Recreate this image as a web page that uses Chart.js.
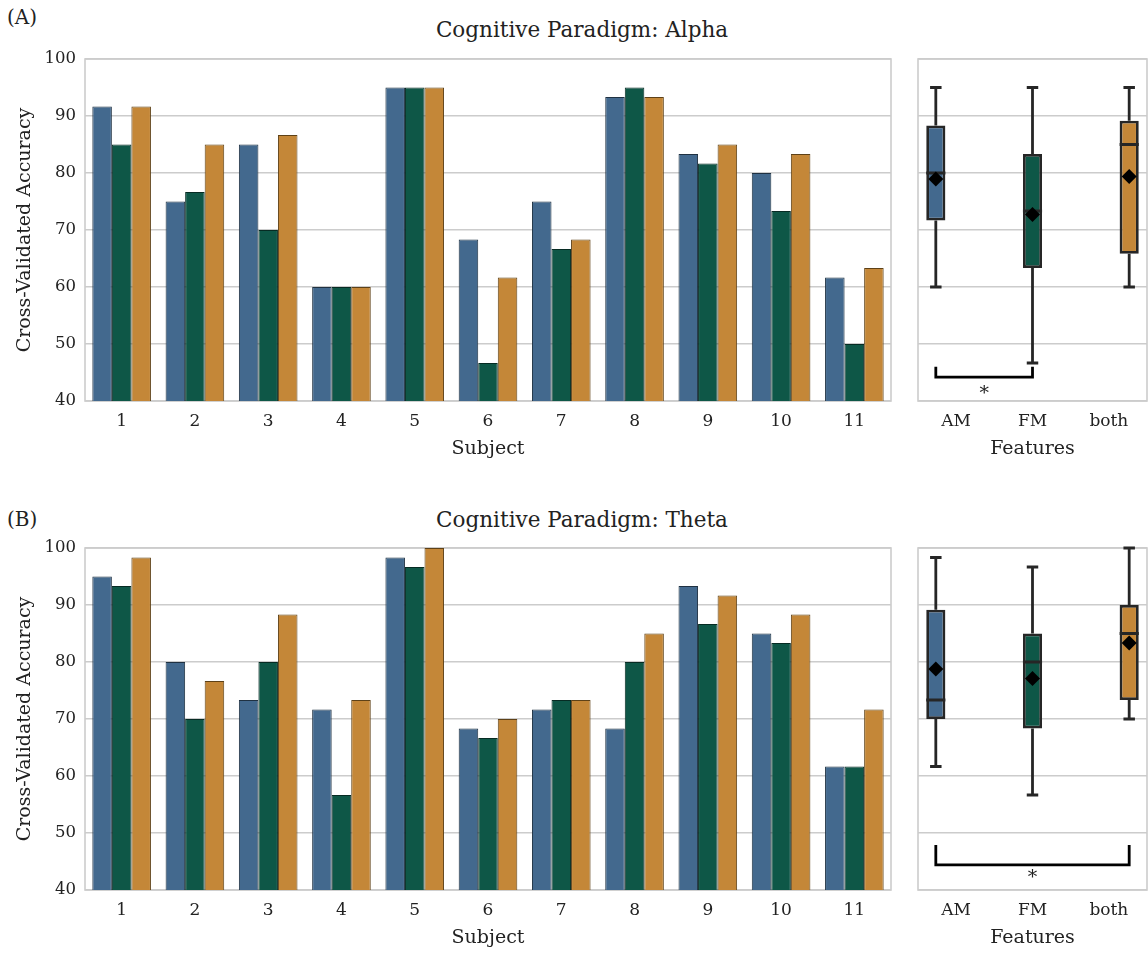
<!DOCTYPE html>
<html>
<head>
<meta charset="utf-8">
<script src="https://cdn.jsdelivr.net/npm/chart.js@4.4.1/dist/chart.umd.min.js"></script>
<style>
  body { margin: 0; background: #fff; width: 1148px; height: 955px; position: relative; overflow: hidden; font-family: 'DejaVu Serif', serif; color: #222; }
  canvas { position: absolute; }
  .tag { position: absolute; font-size: 20px; }
  .ttl { position: absolute; left: 0; width: 1164px; text-align: center; font-size: 21.5px; }
</style>
</head>
<body>
<div class="tag" style="left:7px; top:5px;">(A)</div>
<div class="ttl" style="top:17px;">Cognitive Paradigm: Alpha</div>
<canvas id="barA" width="900" height="421" style="left:0; top:40px;"></canvas>
<canvas id="boxA" width="248" height="421" style="left:900px; top:40px;"></canvas>

<div class="tag" style="left:7px; top:507px;">(B)</div>
<div class="ttl" style="top:507px;">Cognitive Paradigm: Theta</div>
<canvas id="barB" width="900" height="421" style="left:0; top:529px;"></canvas>
<canvas id="boxB" width="248" height="421" style="left:900px; top:529px;"></canvas>

<script>
// subjects and feature sets
const subjects = ['1', '2', '3', '4', '5', '6', '7', '8', '9', '10', '11'];
const features = ['AM', 'FM', 'both'];

// cross-validated accuracy per subject, alpha paradigm
const alphaAM   = [91.67, 75, 85, 60, 95, 68.33, 75, 93.33, 83.33, 80, 61.67];
const alphaFM   = [85, 76.67, 70, 60, 95, 46.67, 66.67, 95, 81.67, 73.33, 50];
const alphaBoth = [91.67, 85, 86.67, 60, 95, 61.67, 68.33, 93.33, 85, 83.33, 63.33];

// cross-validated accuracy per subject, theta paradigm
const thetaAM   = [95, 80, 73.33, 71.67, 98.33, 68.33, 71.67, 68.33, 93.33, 85, 61.67];
const thetaFM   = [93.33, 70, 80, 56.67, 96.67, 66.67, 73.33, 80, 86.67, 83.33, 61.67];
const thetaBoth = [98.33, 76.67, 88.33, 73.33, 100, 70, 73.33, 85, 91.67, 88.33, 71.67];

const yMin = 40, yMax = 100, yStep = 10;

const fills = ['#43698e', '#0e5747', '#c48738'];
const edges = ['#1f3142', '#062b23', '#5e4117'];
const GRID = '#cccccc';
const INK = '#262626';
const FONT = "'DejaVu Serif', serif";

Chart.defaults.font.family = FONT;
Chart.defaults.color = '#222';
Chart.defaults.animation = false;

// numpy-style linear percentile
function pct(sorted, p) {
    const idx = (sorted.length - 1) * p;
    const lo = Math.floor(idx), hi = Math.ceil(idx);
    return sorted[lo] + (sorted[hi] - sorted[lo]) * (idx - lo);
}

function boxStats(vals) {
    const s = [...vals].sort((a, b) => a - b);
    const q1 = pct(s, 0.25), q3 = pct(s, 0.75), med = pct(s, 0.5);
    const iqr = q3 - q1;
    const lo = s.find(v => v >= q1 - 1.5 * iqr);
    const hi = [...s].reverse().find(v => v <= q3 + 1.5 * iqr);
    const mean = vals.reduce((a, b) => a + b, 0) / vals.length;
    return { q1, q3, med, lo, hi, mean };
}

// full box outline around the plot area
const frame = {
    id: 'frame',
    beforeDatasetsDraw(chart) {
        const a = chart.chartArea, c = chart.ctx;
        c.save();
        c.strokeStyle = GRID;
        c.lineWidth = 1.6;
        c.strokeRect(a.left, a.top, a.right - a.left, a.bottom - a.top);
        c.restore();
    }
};

function yScale(showLabels, title) {
    return {
        min: yMin, max: yMax,
        ticks: { stepSize: yStep, display: showLabels, padding: 9, font: { size: 16.5 } },
        grid: { color: GRID, lineWidth: 1.4, drawTicks: false },
        border: { display: false },
        title: { display: !!title, text: title, font: { size: 19 }, padding: { top: 14, bottom: 0 } },
        afterFit: s => { s.width = showLabels ? 85 : 18; }
    };
}

function xScale(title) {
    return {
        grid: { display: false, drawTicks: false },
        border: { display: false },
        ticks: { padding: 10, font: { size: 17 } },
        title: { display: true, text: title, font: { size: 19 }, padding: { top: 0, bottom: 1 } },
        afterFit: s => { s.height = 60; }
    };
}

function barChart(id, series) {
    new Chart(document.getElementById(id), {
        type: 'bar',
        data: {
            labels: subjects,
            datasets: series.map((d, i) => ({
                label: features[i], data: d,
                backgroundColor: fills[i], borderColor: edges[i], borderWidth: 1,
                categoryPercentage: 0.8, barPercentage: 1.0
            }))
        },
        options: {
            responsive: false,
            layout: { padding: { top: 19, right: 9, bottom: 0, left: 0 } },
            plugins: { legend: { display: false }, tooltip: { enabled: false } },
            scales: { x: xScale('Subject'), y: yScale(true, 'Cross-Validated Accuracy') }
        },
        plugins: [frame]
    });
}

function boxChart(id, series, sig) {
    const stats = series.map(boxStats);
    // whiskers, caps, medians, means and significance bracket
    const boxParts = {
        id: 'boxParts',
        afterDatasetsDraw(chart) {
            const c = chart.ctx, y = chart.scales.y;
            const centers = [];
            c.save();
            c.strokeStyle = INK;
            c.lineWidth = 2.8;
            stats.forEach((st, i) => {
                const el = chart.getDatasetMeta(i).data[i];
                const x = el.x, w = el.width;
                centers.push(x);
                const cap = w * 0.3;
                c.beginPath();
                c.moveTo(x, y.getPixelForValue(st.q3)); c.lineTo(x, y.getPixelForValue(st.hi));
                c.moveTo(x, y.getPixelForValue(st.q1)); c.lineTo(x, y.getPixelForValue(st.lo));
                c.moveTo(x - cap, y.getPixelForValue(st.hi)); c.lineTo(x + cap, y.getPixelForValue(st.hi));
                c.moveTo(x - cap, y.getPixelForValue(st.lo)); c.lineTo(x + cap, y.getPixelForValue(st.lo));
                c.moveTo(x - w / 2, y.getPixelForValue(st.med)); c.lineTo(x + w / 2, y.getPixelForValue(st.med));
                c.stroke();
                // mean marker
                const my = y.getPixelForValue(st.mean), r = 7.5;
                c.fillStyle = '#000';
                c.beginPath();
                c.moveTo(x, my - r); c.lineTo(x + r, my); c.lineTo(x, my + r); c.lineTo(x - r, my);
                c.closePath();
                c.fill();
            });
            // significance bracket
            const x0 = centers[sig.from], x1 = centers[sig.to];
            const yt = y.getPixelForValue(sig.tip), yb = y.getPixelForValue(sig.bar);
            c.strokeStyle = '#000';
            c.lineWidth = 2.8;
            c.beginPath();
            c.moveTo(x0, yt); c.lineTo(x0, yb); c.lineTo(x1, yb); c.lineTo(x1, yt);
            c.stroke();
            c.fillStyle = '#222';
            c.font = '19px ' + FONT;
            c.textAlign = 'center';
            c.textBaseline = 'middle';
            c.fillText('*', (x0 + x1) / 2, y.getPixelForValue(sig.star) + 4);
            c.restore();
        }
    };
    new Chart(document.getElementById(id), {
        type: 'bar',
        data: {
            labels: features,
            datasets: stats.map((st, i) => ({
                label: features[i],
                data: features.map((f, j) => j === i ? [st.q1, st.q3] : null),
                backgroundColor: fills[i], borderColor: INK, borderWidth: 2.8, borderSkipped: false,
                categoryPercentage: 0.8, barPercentage: 0.94
            }))
        },
        options: {
            responsive: false,
            layout: { padding: { top: 19, right: 1, bottom: 0, left: 0 } },
            plugins: { legend: { display: false }, tooltip: { enabled: false } },
            scales: { x: xScale('Features'), y: yScale(false, '') }
        },
        plugins: [frame, boxParts]
    });
}

barChart('barA', [alphaAM, alphaFM, alphaBoth]);
boxChart('boxA', [alphaAM, alphaFM, alphaBoth], { from: 0, to: 1, tip: 46, bar: 44.2, star: 41.9 });
barChart('barB', [thetaAM, thetaFM, thetaBoth]);
boxChart('boxB', [thetaAM, thetaFM, thetaBoth], { from: 0, to: 2, tip: 47.9, bar: 44.4, star: 42.8 });
</script>
</body>
</html>
